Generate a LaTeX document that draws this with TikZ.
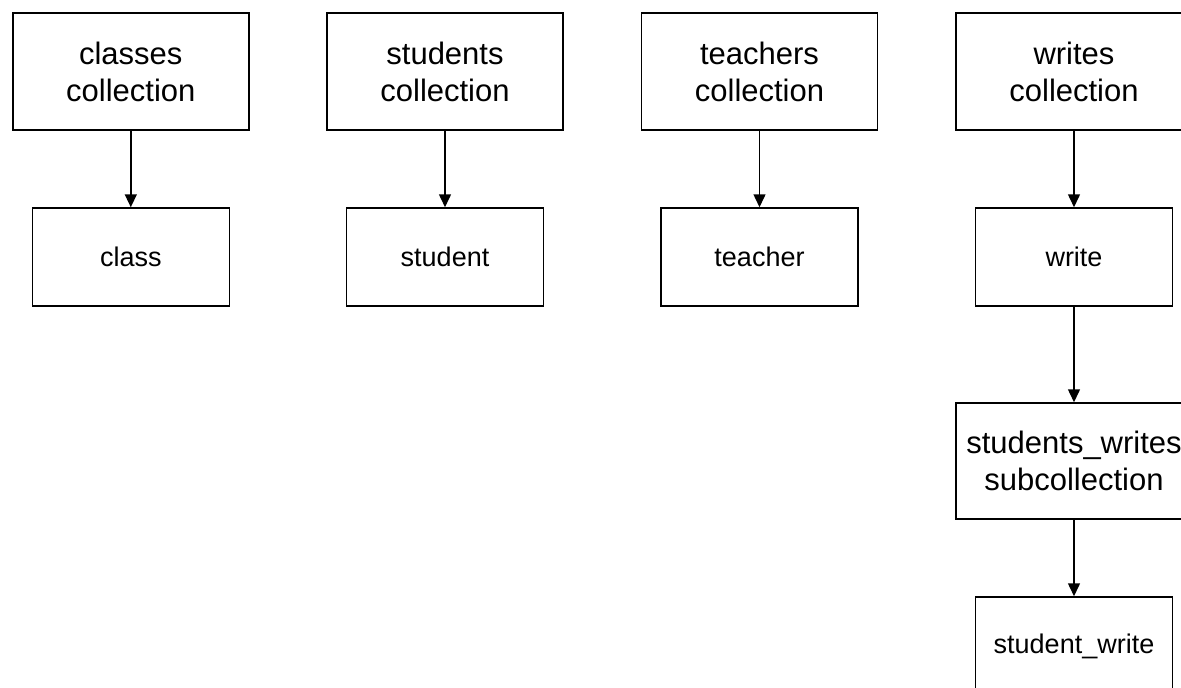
\documentclass[tikz,border=0pt]{standalone}
\usepackage{fontspec}
\setmainfont{Liberation Sans}
\usetikzlibrary{arrows.meta}
\begin{document}
\begin{tikzpicture}[x=1pt,y=-1pt,
  big/.style={draw=black, line width=1.5pt, minimum width=236pt, minimum height=117pt, align=center, font=\fontsize{31}{37}\selectfont, inner sep=0pt},
  small/.style={draw=black, line width=1.5pt, minimum width=197pt, minimum height=98pt, align=center, font=\fontsize{27}{32}\selectfont, inner sep=0pt},
  link/.style={line width=1.5pt, -{Triangle[width=12pt,length=13pt]}}]
\useasboundingbox (0,0) rectangle (1181,688);
\clip (0,0) rectangle (1181,688);
\node[big] (cc) at (130.8,71.5) {classes\\collection};
\node[small] (c) at (130.8,257) {class};
\node[big] (sc) at (445,71.5) {students\\collection};
\node[small] (s) at (445,257) {student};
\node[big] (tc) at (759.5,71.5) {teachers\\collection};
\node[small] (t) at (759.5,257) {teacher};
\node[big] (wc) at (1074,71.5) {writes\\collection};
\node[small] (w) at (1074,257) {write};
\node[big, minimum height=116pt] (swc) at (1074,461) {students\_writes\\subcollection};
\node[small] (sw) at (1074,646) {student\_write};
\draw[link] (cc) -- (c);
\draw[link] (sc) -- (s);
\draw[link] (tc) -- (t);
\draw[link] (wc) -- (w);
\draw[link] (w) -- (swc);
\draw[link] (swc) -- (sw);
\end{tikzpicture}
\end{document}
